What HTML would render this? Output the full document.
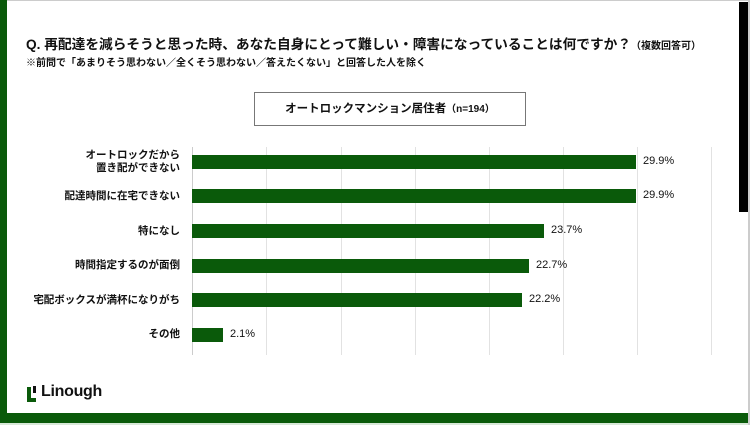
<!DOCTYPE html>
<html><head><meta charset="utf-8"><style>
body{margin:0;width:750px;height:425px;background:#fff;position:relative;overflow:hidden;font-family:"Liberation Sans","Noto Sans CJK JP",sans-serif;color:#111}
.a{position:absolute}
.lbl{position:absolute;right:570px;font-size:10.5px;font-weight:bold;text-align:right;line-height:13px;white-space:nowrap}
.bar{position:absolute;left:192px;height:14px;background:#0a5a0a}
.val{position:absolute;font-size:11px;}
.g{position:absolute;top:147px;height:208px;width:1px;background:#e2e2e2}
</style></head><body>
<div class="a" style="left:0;top:0;width:750px;height:1px;background:#ccc"></div>
<div class="a" style="left:0;top:0;width:7px;height:423px;background:#0a5a0a"></div>
<div class="a" style="left:0;top:413px;width:749px;height:10px;background:#0a5a0a"></div>
<div class="a" style="left:0;top:423px;width:750px;height:2px;background:#d8e8d8"></div>
<div class="a" style="left:739px;top:2px;width:9px;height:210px;background:#000"></div>
<div class="a" style="left:748px;top:0;width:2px;height:425px;background:#ccc"></div>
<div class="a" style="left:26px;top:33px;font-size:13.7px;font-weight:bold;white-space:nowrap">Q. 再配達を減らそうと思った時、あなた自身にとって難しい・障害になっていることは何ですか？<span style="font-size:10px">（複数回答可）</span></div>
<div class="a" style="left:26px;top:54px;font-size:10px;font-weight:bold;white-space:nowrap">※前問で「あまりそう思わない／全くそう思わない／答えたくない」と回答した人を除く</div>
<div class="a" style="left:254px;top:92px;width:270px;height:32px;border:1px solid #777;text-align:center;line-height:32px;font-size:11.5px;font-weight:bold">オートロックマンション居住者<span style="font-size:10px">（n=194）</span></div>
<div class="g" style="left:192px;background:#ccc"></div><div class="g" style="left:266px"></div><div class="g" style="left:341px"></div><div class="g" style="left:415px"></div><div class="g" style="left:489px"></div><div class="g" style="left:563px"></div><div class="g" style="left:637px"></div><div class="g" style="left:711px"></div>
<div class="lbl" style="top:149px">オートロックだから<br>置き配ができない</div>
<div class="lbl" style="top:190px">配達時間に在宅できない</div>
<div class="lbl" style="top:225px">特になし</div>
<div class="lbl" style="top:259px">時間指定するのが面倒</div>
<div class="lbl" style="top:294px">宅配ボックスが満杯になりがち</div>
<div class="lbl" style="top:328px">その他</div>
<div class="bar" style="top:155px;width:444px"></div><div class="val" style="left:643px;top:155px">29.9%</div>
<div class="bar" style="top:189px;width:444px"></div><div class="val" style="left:643px;top:189px">29.9%</div>
<div class="bar" style="top:224px;width:352px"></div><div class="val" style="left:551px;top:224px">23.7%</div>
<div class="bar" style="top:259px;width:337px"></div><div class="val" style="left:536px;top:259px">22.7%</div>
<div class="bar" style="top:293px;width:330px"></div><div class="val" style="left:529px;top:293px">22.2%</div>
<div class="bar" style="top:328px;width:31px"></div><div class="val" style="left:230px;top:328px">2.1%</div>
<div class="a" style="left:27px;top:387px;width:4px;height:15px;background:#0a5a0a"></div>
<div class="a" style="left:27px;top:398px;width:9px;height:4px;background:#0a5a0a"></div>
<div class="a" style="left:33px;top:386px;width:3px;height:7px;background:#111"></div>
<div class="a" style="left:41px;top:383px;font-size:16px;font-weight:bold;letter-spacing:-0.3px">Linough</div>
</body></html>
